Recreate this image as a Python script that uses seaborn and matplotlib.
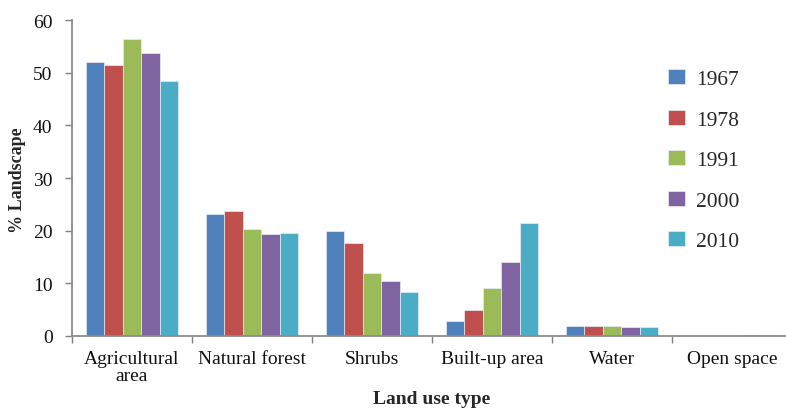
import matplotlib
matplotlib.use("Agg")
import matplotlib.pyplot as plt
import seaborn as sns
import pandas as pd
import numpy as np

categories = ["Agricultural\narea", "Natural forest", "Shrubs", "Built-up area", "Water", "Open space"]
years = ["1967", "1978", "1991", "2000", "2010"]
values_1967 = [52.1, 23.1, 19.9, 2.9, 1.9, 0.02]
values_1978 = [51.4, 23.8, 17.7, 4.9, 1.9, 0.03]
values_1991 = [56.4, 20.3, 11.9, 9.1, 1.9, 0.05]
values_2000 = [53.8, 19.4, 10.5, 14.1, 1.8, 0.2]
values_2010 = [48.5, 19.6, 8.3, 21.5, 1.8, 0.2]
colors = ["#4F81BD", "#C0504D", "#9BBB59", "#8064A2", "#4BACC6"]

series = [values_1967, values_1978, values_1991, values_2000, values_2010]
rows = []
for yr, vals in zip(years, series):
    for cat, v in zip(categories, vals):
        rows.append({"Land use type": cat, "Year": yr, "% Landscape": v})
df = pd.DataFrame(rows)

sns.set_style("white")
plt.rcParams["font.family"] = ["Liberation Serif", "DejaVu Serif"]

W, H = 786, 410
fig = plt.figure(figsize=(W / 100, H / 100), dpi=100)
ax = fig.add_axes([72 / W, (H - 337) / H, 720 / W, 316 / H])

sns.barplot(data=df, x="Land use type", y="% Landscape", hue="Year",
            palette=colors, width=0.77, saturation=1, ax=ax,
            edgecolor="#e8eef5", linewidth=0.5)

ax.set_xlim(-0.5, 5.5)
ax.set_ylim(0, 60)
ax.set_yticks(np.arange(0, 61, 10))
ax.tick_params(axis="y", labelsize=14, length=5, width=1, color="#808080",
               direction="out", left=True, pad=9, labelcolor="#111111")
ax.set_xticks(range(len(categories)))
ax.set_xticklabels(categories, fontsize=14, color="#111111", linespacing=1.0)
ax.tick_params(axis="x", which="major", length=0, pad=10)
ax.set_xticks(np.arange(-0.5, 5.6, 1), minor=True)
ax.tick_params(axis="x", which="minor", length=5, width=1, color="#808080",
               direction="out", bottom=True)

for side in ["top", "right"]:
    ax.spines[side].set_visible(False)
for side in ["left", "bottom"]:
    ax.spines[side].set_color("#8c8c8c")
    ax.spines[side].set_linewidth(1.3)

ax.set_xlabel("")
ax.set_ylabel("")
fig.text(18 / W, 1 - 180 / H, "% Landscape", rotation=90, ha="center", va="center",
         fontsize=13, fontweight="bold")
fig.text(432 / W, 2 / H, "Land use type", ha="center", va="bottom",
         fontsize=14, fontweight="bold")

ax.legend(loc="upper left", bbox_to_anchor=(668 / W, 1 - 70 / H),
          bbox_transform=fig.transFigure, frameon=False, fontsize=15.5,
          handlelength=0.8, handleheight=0.7, handletextpad=0.5,
          labelspacing=0.95, borderaxespad=0, borderpad=0)

fig.savefig("out.png", dpi=100, facecolor="white")
